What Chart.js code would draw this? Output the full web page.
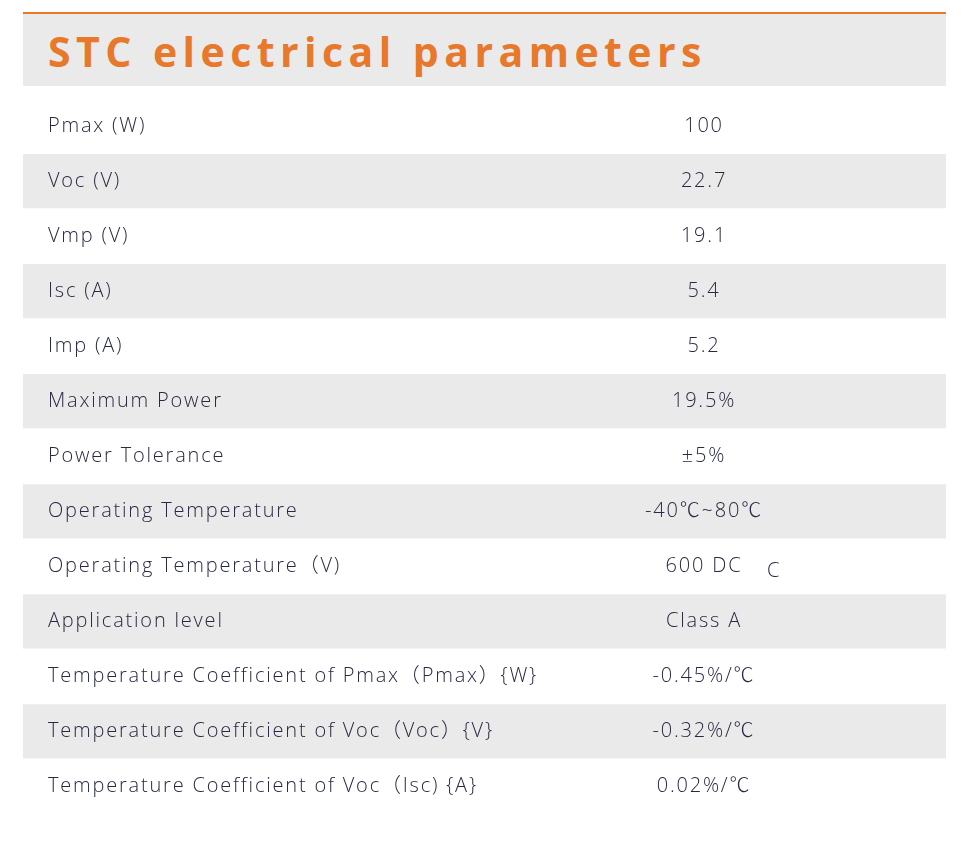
<!DOCTYPE html>
<html>
<head>
<meta charset="utf-8">
<script src="https://cdn.jsdelivr.net/npm/chart.js@4.4.1/dist/chart.umd.min.js"></script>
<style>
  html, body { margin: 0; padding: 0; background: #fff; }
  body { width: 970px; height: 855px; position: relative; overflow: hidden; }
  #head {
    position: absolute; left: 23px; top: 12px; width: 923px; height: 72px;
    background: #eaeaea; border-top: 2px solid #e8782a;
  }
  #head h1 {
    margin: 0; position: absolute; left: 25px; top: 9px;
    font: bold 41px "Open Sans", sans-serif; letter-spacing: 5.45px;
    color: #e8782a; line-height: 56px; white-space: nowrap;
  }
  #wrap { position: absolute; left: 0; top: 86px; width: 970px; height: 769px; }
</style>
</head>
<body>
<div id="head"><h1>STC electrical parameters</h1></div>
<div id="wrap"><canvas id="table"></canvas></div>
<script>
var rows = [
  'Pmax (W)',
  'Voc (V)',
  'Vmp (V)',
  'Isc (A)',
  'Imp (A)',
  'Maximum Power',
  'Power Tolerance',
  'Operating Temperature',
  'Operating Temperature（V)',
  'Application level',
  'Temperature Coefficient of Pmax（Pmax）{W}',
  'Temperature Coefficient of Voc（Voc）{V}',
  'Temperature Coefficient of Voc（Isc) {A}'
];
var values = [
  '100', '22.7', '19.1', '5.4', '5.2', '19.5%', '±5%',
  '-40℃~80℃', '600 DC', 'Class A', '-0.45%/℃', '-0.32%/℃', '0.02%/℃'
];
// stray glyph next to the voltage value in the original
var strays = [{ row: 8, text: 'C' }];

var textColor = '#272a42';
var family = '"Open Sans", "Noto Sans CJK SC", sans-serif';

var spacing = {
  id: 'spacing',
  beforeDraw: function(chart) { chart.ctx.letterSpacing = '1.8px'; }
};

var valuePlugin = {
  id: 'valueColumn',
  afterDatasetsDraw: function(chart) {
    var ctx = chart.ctx;
    var y = chart.scales.y;
    ctx.save();
    ctx.letterSpacing = '1.8px';
    ctx.fillStyle = textColor;
    ctx.font = '300 20px ' + family;
    ctx.textAlign = 'center';
    ctx.textBaseline = 'middle';
    values.forEach(function(v, i) {
      ctx.fillText(v, 704, y.getPixelForValue(i));
    });
    strays.forEach(function(s) {
      ctx.textAlign = 'left';
      ctx.fillText(s.text, 767, y.getPixelForValue(s.row) + 5);
    });
    ctx.restore();
  }
};

var chart = new Chart(document.getElementById('table').getContext('2d'), {
  type: 'bar',
  data: {
    labels: rows,
    datasets: [{
      data: rows.map(function() { return 1; }),
      backgroundColor: function(c) { return c.dataIndex % 2 ? '#eaeaea' : 'rgba(255,255,255,0)'; },
      borderWidth: 0,
      barPercentage: 1,
      categoryPercentage: 0.985
    }]
  },
  options: {
    indexAxis: 'y',
    responsive: true,
    maintainAspectRatio: false,
    animation: false,
    events: [],
    layout: { padding: { left: 23, right: 24, top: 12.5, bottom: 41 } },
    scales: {
      x: { display: false, min: 0, max: 1 },
      y: {
        grid: { display: false, drawTicks: false },
        border: { display: false },
        afterFit: function(s) {
          s.width = 0;
          s.paddingTop = 0;
          s.paddingBottom = 0;
        },
        ticks: {
          z: 1,
          autoSkip: false,
          mirror: true,
          padding: 25,
          color: textColor,
          font: { family: family, size: 20, weight: 300 }
        }
      }
    },
    plugins: {
      legend: { display: false },
      tooltip: { enabled: false }
    }
  },
  plugins: [spacing, valuePlugin]
});
</script>
</body>
</html>
